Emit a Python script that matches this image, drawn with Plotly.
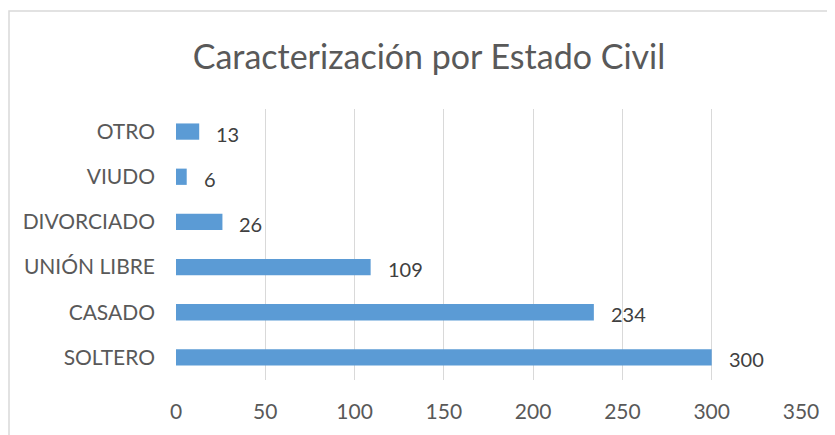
import plotly.graph_objects as go

categories = ["SOLTERO", "CASADO", "UNIÓN LIBRE", "DIVORCIADO", "VIUDO", "OTRO"]
values = [300, 234, 109, 26, 6, 13]
x_ticks = [0, 50, 100, 150, 200, 250, 300, 350]
title = "Caracterización por Estado Civil"

FONT = "Lato, 'Open Sans', sans-serif"
W, H = 835, 435
OFF = 8  # page body margin offset
L, T = 176 - OFF, 109 - OFF
pw, ph = 625, 271
R, B = W - L - pw, H - T - ph

def px_x(px):
    return (px - OFF - L) / pw

def px_y(py):
    return (H - B - (py - OFF)) / ph

fig = go.Figure()
fig.add_trace(go.Bar(
    x=values, y=categories, orientation="h",
    marker=dict(color="#5B9BD5", line=dict(width=0)),
    hoverinfo="x+y",
))

for c, v in zip(categories, values):
    fig.add_annotation(x=v, y=c, text=str(v), showarrow=False,
                       xanchor="left", xshift=15, yshift=-2,
                       font=dict(family=FONT, size=20, color="#404040"))

fig.add_shape(type="rect", xref="paper", yref="paper",
              x0=px_x(9), x1=px_x(860), y0=px_y(460), y1=px_y(11),
              line=dict(color="#d9d9d9", width=1.5), fillcolor="rgba(0,0,0,0)",
              layer="below")

fig.update_layout(
    width=W, height=H,
    margin=dict(l=L, r=R, t=T, b=B, autoexpand=False),
    paper_bgcolor="white", plot_bgcolor="white",
    bargap=0.64,
    showlegend=False,
    title=dict(text=title, x=(429 - OFF) / W, xref="container",
               xanchor="center", y=1 - (57 - OFF) / H, yanchor="middle",
               font=dict(family=FONT, size=34, color="#595959")),
    xaxis=dict(range=[0, 350], tickvals=x_ticks, showgrid=True, gridcolor="#d9d9d9",
               gridwidth=1, zeroline=False, showline=False, ticks="", automargin=False,
               tickfont=dict(family=FONT, size=21, color="#595959"),
               ticklabelstandoff=17),
    yaxis=dict(categoryorder="array", categoryarray=categories, showgrid=False,
               zeroline=False, showline=False, ticks="", automargin=False,
               tickfont=dict(family=FONT, size=21, color="#595959"),
               ticklabelstandoff=20),
)
fig.write_html("out.html")
